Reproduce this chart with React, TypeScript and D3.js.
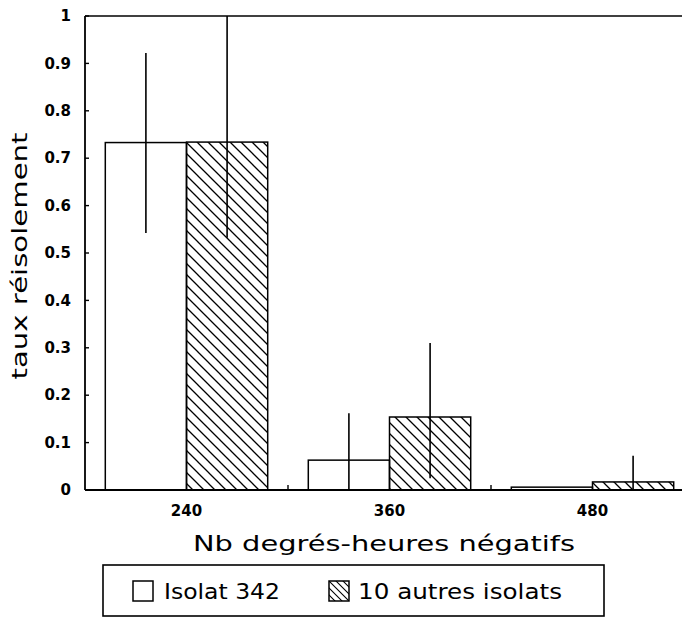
import React from "react";
import * as d3 from "d3";

const categories = ["240", "360", "480"];
const seriesNames = ["Isolat 342", "10 autres isolats"];
const isolat342 = [0.733, 0.063, 0.006];
const autresIsolats = [0.734, 0.154, 0.017];
const err342Low = [0.542, 0.0, null];
const err342High = [0.922, 0.162, null];
const errAutresLow = [0.532, 0.025, 0.0];
const errAutresHigh = [1.0, 0.31, 0.072];
const yTickValues = [0, 0.1, 0.2, 0.3, 0.4, 0.5, 0.6, 0.7, 0.8, 0.9, 1];
const yTickLabels = ["0", "0.1", "0.2", "0.3", "0.4", "0.5", "0.6", "0.7", "0.8", "0.9", "1"];
const xTitle = "Nb degrés-heures négatifs";
const yTitle = "taux réisolement";

const W = 682;
const H = 618;
const FONT = "'DejaVu Sans', 'Noto Sans', sans-serif";

export default function App() {
  const left = 85;
  const top = 16;
  const bottom = 490;
  const right = 694;

  const x = d3.scaleBand<string>().domain(categories).range([left, right]).paddingInner(0.2).paddingOuter(0.1);
  const xs = d3.scaleBand<string>().domain(["a", "b"]).range([0, x.bandwidth()]);
  const y = d3.scaleLinear().domain([0, 1]).range([bottom, top]);
  const step = x.step();
  const bw = xs.bandwidth();

  const bars: any[] = [];
  categories.forEach((c, i) => {
    bars.push({ c, k: "a", v: isolat342[i], lo: err342Low[i], hi: err342High[i] });
    bars.push({ c, k: "b", v: autresIsolats[i], lo: errAutresLow[i], hi: errAutresHigh[i] });
  });

  const boundaries = categories.slice(1).map((c) => (x(c) as number) - step * 0.1);

  return (
    <div style={{ position: "absolute", left: 0, top: 0 }}>
      <svg width={W} height={H} style={{ display: "block", background: "#fff" }}>
        <defs>
          <pattern id="hatch" patternUnits="userSpaceOnUse" width={11} height={11}>
            <path d="M-3,-3 L14,14 M-3,8 L3,14 M8,-3 L14,3" stroke="#000" strokeWidth={1.3} />
          </pattern>
          <pattern id="hatchSmall" patternUnits="userSpaceOnUse" width={7} height={7}>
            <path d="M-2,-2 L9,9 M-2,5 L2,9 M5,-2 L9,2" stroke="#000" strokeWidth={1.1} />
          </pattern>
          <clipPath id="plotClip">
            <rect x={0} y={0} width={W} height={H} />
          </clipPath>
        </defs>
        <rect x={0} y={0} width={W} height={H} fill="#fff" />

        {/* bars */}
        {bars.map((b, i) => {
          const bx = (x(b.c) as number) + (xs(b.k) as number);
          const by = y(b.v);
          return (
            <rect
              key={"bar" + i}
              x={bx}
              y={by}
              width={bw}
              height={bottom - by}
              fill={b.k === "a" ? "#fff" : "url(#hatch)"}
              stroke="#000"
              strokeWidth={1.5}
            />
          );
        })}

        {/* error bars */}
        {bars.map((b, i) => {
          if (b.lo === null || b.hi === null) return null;
          const cx = (x(b.c) as number) + (xs(b.k) as number) + bw / 2;
          return (
            <line
              key={"err" + i}
              x1={cx}
              x2={cx}
              y1={y(b.lo)}
              y2={y(b.hi)}
              stroke="#000"
              strokeWidth={1.6}
            />
          );
        })}

        {/* frame */}
        <line x1={left} x2={W} y1={top} y2={top} stroke="#000" strokeWidth={1.6} />
        <line x1={left} x2={left} y1={top} y2={bottom} stroke="#000" strokeWidth={1.8} />
        <line x1={left} x2={W} y1={bottom} y2={bottom} stroke="#000" strokeWidth={1.8} />

        {/* y ticks */}
        {yTickValues.map((v, i) => (
          <g key={"yt" + i}>
            <line x1={left} x2={left + 4} y1={y(v)} y2={y(v)} stroke="#000" strokeWidth={1.4} />
            <text
              x={71}
              y={y(v)}
              dy="0.35em"
              textAnchor="end"
              fontFamily={FONT}
              fontSize={15}
              fontWeight="bold"
            >
              {yTickLabels[i]}
            </text>
          </g>
        ))}

        {/* x ticks at group boundaries */}
        {boundaries.map((bx, i) => (
          <line key={"xb" + i} x1={bx} x2={bx} y1={bottom} y2={bottom - 5} stroke="#000" strokeWidth={1.4} />
        ))}

        {/* x labels */}
        {categories.map((c) => (
          <text
            key={"xl" + c}
            x={(x(c) as number) + x.bandwidth() / 2}
            y={511}
            dy="0.35em"
            textAnchor="middle"
            fontFamily={FONT}
            fontSize={15}
            fontWeight="bold"
          >
            {c}
          </text>
        ))}

        {/* axis titles */}
        <text
          x={384}
          y={543}
          dy="0.35em"
          textAnchor="middle"
          fontFamily={FONT}
          fontSize={22}
          textLength={382}
          lengthAdjust="spacingAndGlyphs"
        >
          {xTitle}
        </text>
        <text
          transform={`translate(19,256) rotate(-90)`}
          dy="0.35em"
          textAnchor="middle"
          fontFamily={FONT}
          fontSize={22}
          textLength={247}
          lengthAdjust="spacingAndGlyphs"
        >
          {yTitle}
        </text>

        {/* legend */}
        <rect x={103} y={565} width={501} height={51} fill="#fff" stroke="#000" strokeWidth={1.6} />
        <rect x={133} y={581} width={20} height={20} fill="#fff" stroke="#000" strokeWidth={1.5} />
        <text x={164} y={591} dy="0.35em" fontFamily={FONT} fontSize={22} textLength={116} lengthAdjust="spacingAndGlyphs">
          {seriesNames[0]}
        </text>
        <rect x={329} y={581} width={20} height={20} fill="url(#hatchSmall)" stroke="#000" strokeWidth={1.5} />
        <text x={358} y={591} dy="0.35em" fontFamily={FONT} fontSize={22} textLength={204} lengthAdjust="spacingAndGlyphs">
          {seriesNames[1]}
        </text>
      </svg>
    </div>
  );
}
